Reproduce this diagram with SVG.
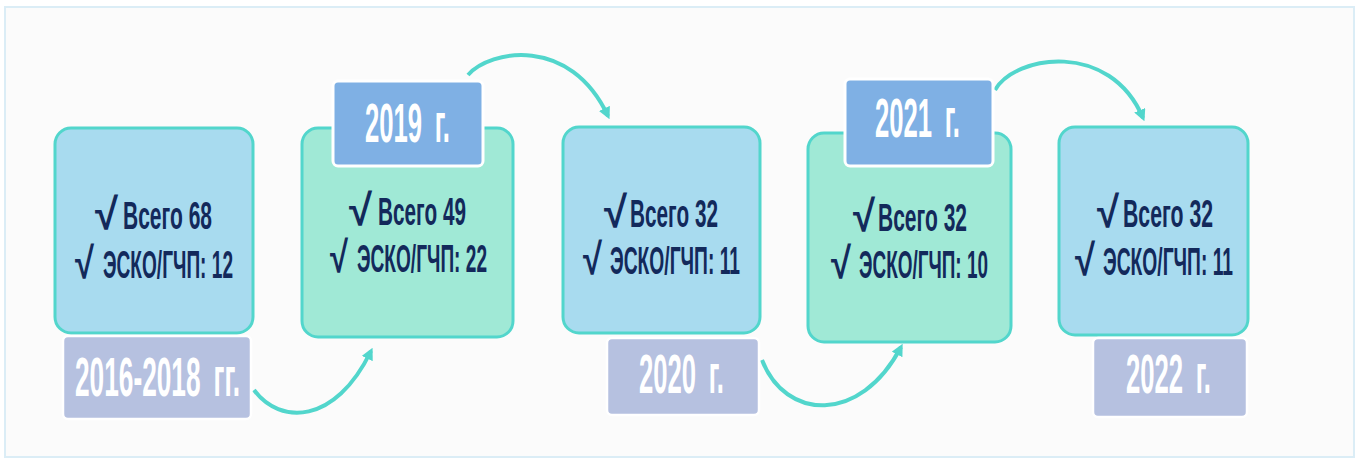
<svg xmlns="http://www.w3.org/2000/svg" width="1362" height="459" viewBox="0 0 1362 459">
<style>
.frame{fill:#fbfbfb;stroke:#dbedf6;stroke-width:2}
.blue{fill:#a8dbef;stroke:#52d6cc;stroke-width:3}
.green{fill:#a0e9d6;stroke:#52d6cc;stroke-width:3}
.lab1{fill:#b6c1e0;stroke:#ffffff;stroke-width:2.5}
.lab2{fill:#7fb0e4;stroke:#ffffff;stroke-width:3}
.lt{font-family:"Liberation Sans",Arial,sans-serif;font-weight:bold;font-size:56px;fill:#ffffff;word-spacing:12px}
.bt{font-family:"Liberation Sans",Arial,sans-serif;font-weight:bold;font-size:38px;fill:#13295b}
.ck{font-family:"Liberation Sans","DejaVu Sans",sans-serif;font-weight:bold;font-size:44px;fill:#13295b}
.arr{fill:none;stroke:#52d6cc;stroke-width:4;marker-end:url(#ah)}
</style>
<defs>
<marker id="ah" viewBox="0 0 10 10" refX="7" refY="5" markerWidth="12" markerHeight="12" markerUnits="userSpaceOnUse" orient="auto">
<path d="M0,0 L10,5 L0,10 z" fill="#52d6cc"/>
</marker>
</defs>
<rect class="frame" x="5" y="7" width="1349" height="450"/>
<g id="connectors">
<path class="arr" d="M254,390 C280,425 335,425 371,351"/>
<path class="arr" d="M468,75 C490,50 570,35 608,116"/>
<path class="arr" d="M762,360 C785,420 860,425 901,347"/>
<path class="arr" d="M995,90 C1015,55 1110,40 1143,118"/>
</g>
<g id="node1">
<rect class="blue" x="55" y="128" width="198" height="205" rx="16"/>
<text class="ck" x="95" y="229" textLength="23" lengthAdjust="spacingAndGlyphs">√</text>
<text class="bt" x="123" y="229" textLength="89" lengthAdjust="spacingAndGlyphs">Всего 68</text>
<text class="ck" x="75" y="278" textLength="19" lengthAdjust="spacingAndGlyphs">√</text>
<text class="bt" x="103" y="278" textLength="130" lengthAdjust="spacingAndGlyphs">ЭСКО/ГЧП: 12</text>
<rect class="lab1" x="63" y="336" width="188" height="83" rx="5"/>
<text class="lt" x="75" y="396" textLength="165" lengthAdjust="spacingAndGlyphs">2016-2018 гг.</text>
</g>
<g id="node2">
<rect class="green" x="302" y="128" width="211" height="209" rx="16"/>
<rect class="lab2" x="333" y="81" width="150" height="85" rx="5"/>
<text class="lt" x="365" y="142" textLength="85" lengthAdjust="spacingAndGlyphs">2019 г.</text>
<text class="ck" x="349" y="225" textLength="23" lengthAdjust="spacingAndGlyphs">√</text>
<text class="bt" x="378" y="225" textLength="88" lengthAdjust="spacingAndGlyphs">Всего 49</text>
<text class="ck" x="330" y="272" textLength="18" lengthAdjust="spacingAndGlyphs">√</text>
<text class="bt" x="357" y="272" textLength="130" lengthAdjust="spacingAndGlyphs">ЭСКО/ГЧП: 22</text>
</g>
<g id="node3">
<rect class="blue" x="563" y="127" width="197" height="206" rx="16"/>
<text class="ck" x="604" y="227" textLength="23" lengthAdjust="spacingAndGlyphs">√</text>
<text class="bt" x="630" y="227" textLength="88" lengthAdjust="spacingAndGlyphs">Всего 32</text>
<text class="ck" x="583" y="274" textLength="19" lengthAdjust="spacingAndGlyphs">√</text>
<text class="bt" x="610" y="274" textLength="130" lengthAdjust="spacingAndGlyphs">ЭСКО/ГЧП: 11</text>
<rect class="lab1" x="607" y="338" width="152" height="77" rx="5"/>
<text class="lt" x="639" y="393" textLength="85" lengthAdjust="spacingAndGlyphs">2020 г.</text>
</g>
<g id="node4">
<rect class="green" x="808" y="133" width="203" height="209" rx="16"/>
<rect class="lab2" x="845" y="79" width="148" height="87" rx="5"/>
<text class="lt" x="875" y="137" textLength="85" lengthAdjust="spacingAndGlyphs">2021 г.</text>
<text class="ck" x="853" y="231" textLength="22" lengthAdjust="spacingAndGlyphs">√</text>
<text class="bt" x="878" y="231" textLength="89" lengthAdjust="spacingAndGlyphs">Всего 32</text>
<text class="ck" x="831" y="278" textLength="20" lengthAdjust="spacingAndGlyphs">√</text>
<text class="bt" x="859" y="278" textLength="129" lengthAdjust="spacingAndGlyphs">ЭСКО/ГЧП: 10</text>
</g>
<g id="node5">
<rect class="blue" x="1059" y="127" width="189" height="208" rx="16"/>
<text class="ck" x="1097" y="227" textLength="22" lengthAdjust="spacingAndGlyphs">√</text>
<text class="bt" x="1123" y="227" textLength="90" lengthAdjust="spacingAndGlyphs">Всего 32</text>
<text class="ck" x="1075" y="275" textLength="20" lengthAdjust="spacingAndGlyphs">√</text>
<text class="bt" x="1103" y="275" textLength="130" lengthAdjust="spacingAndGlyphs">ЭСКО/ГЧП: 11</text>
<rect class="lab1" x="1093" y="338" width="154" height="79" rx="5"/>
<text class="lt" x="1126" y="393" textLength="85" lengthAdjust="spacingAndGlyphs">2022 г.</text>
</g>
</svg>
